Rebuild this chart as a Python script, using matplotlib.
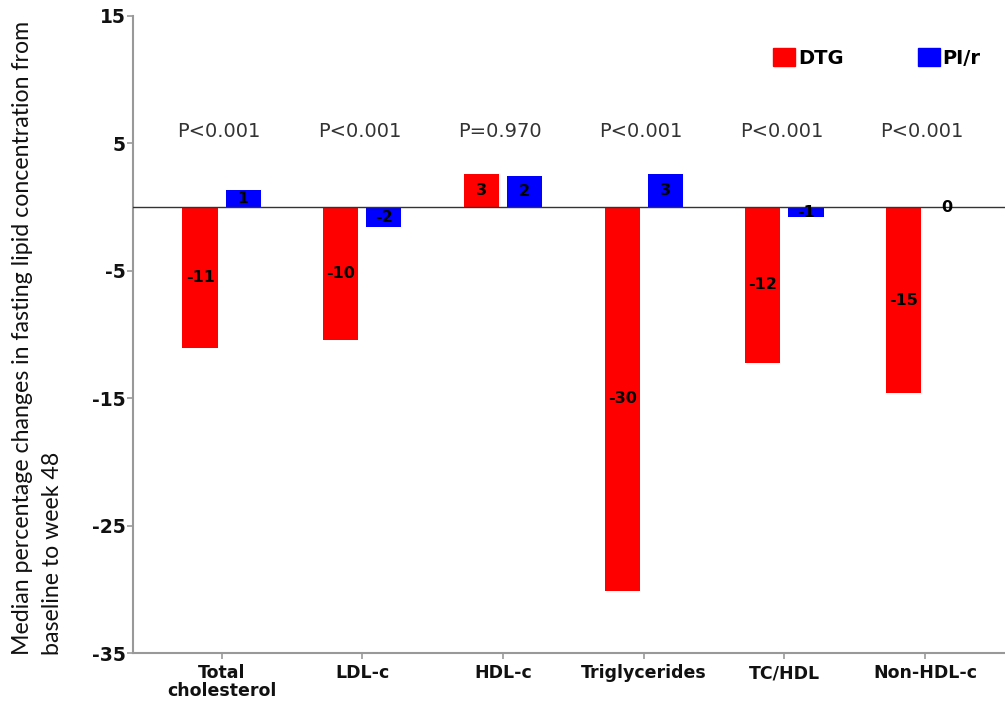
import matplotlib
matplotlib.use("Agg")
import matplotlib.pyplot as plt
import numpy as np
from matplotlib.patches import Patch

categories = ["Total\ncholesterol", "LDL-c", "HDL-c", "Triglycerides", "TC/HDL", "Non-HDL-c"]
dtg = [-11.1, -10.4, 2.6, -30.1, -12.2, -14.6]
pir = [1.3, -1.6, 2.4, 2.6, -0.8, 0.0]
pvalues = ["P<0.001", "P<0.001", "P=0.970", "P<0.001", "P<0.001", "P<0.001"]
yticks = [15, 5, -5, -15, -25, -35]

plt.rcParams['font.family'] = ['DejaVu Sans']

fig = plt.figure(figsize=(10.05, 7.04), dpi=100)
ax = fig.add_axes([0.1323, 0.0724, 0.868, 0.905])

x = np.arange(len(categories))
w = 0.25
off = 0.153
red = "#ff0000"
blue = "#0000ff"
ax.bar(x - off, dtg, w, color=red, zorder=2)
ax.bar(x + off, pir, w, color=blue, zorder=2)

ax.axhline(0, color="#333333", lw=1.0, zorder=3)

for xi, v in zip(x - off, dtg):
    ax.text(xi, v / 2, f"{v:.0f}", ha="center", va="center", fontsize=11.5,
            fontweight="bold", color="black", zorder=4)
for xi, v in zip(x + off, pir):
    ax.text(xi, v / 2, f"{v:.0f}", ha="center", va="center", fontsize=11.5,
            fontweight="bold", color="black", zorder=4)

for xi, p in zip(x, pvalues):
    ax.text(xi - 0.02, 5.9, p, ha="center", va="center", fontsize=14,
            color="#333333")

ax.set_xlim(-0.63, 5.57)
ax.set_ylim(-35, 15)
ax.set_yticks(yticks)
ax.set_yticklabels([str(t) for t in yticks], fontsize=13.5, fontweight="bold")
ax.set_xticks(x)
ax.set_xticklabels(categories, fontsize=12.5, fontweight="bold", linespacing=1.0)

for s in ["top", "right"]:
    ax.spines[s].set_visible(False)
for s in ["left", "bottom"]:
    ax.spines[s].set_color("#999999")
    ax.spines[s].set_linewidth(1.5)
ax.tick_params(axis="both", colors="#999999", length=4, width=1.2, labelcolor="#111111")
ax.tick_params(axis="y", pad=1)
ax.tick_params(axis="x", pad=4)

fig.text(12 / 1005, 49 / 704,
         "Median percentage changes in fasting lipid concentration from\nbaseline to week 48",
         rotation=90, ha="left", va="bottom", multialignment="left",
         fontsize=16.7, family=["Liberation Sans Narrow", "Lato", "DejaVu Sans"],
         linespacing=1.55, color="#111111")

handles = [Patch(color=red, label="DTG"), Patch(color=blue, label="PI/r")]
ax.legend(handles=handles, ncol=2, frameon=False, loc="center left",
          bbox_to_anchor=(0.714, 0.934), handlelength=1.13, handleheight=1.0,
          handletextpad=0.15, columnspacing=3.8,
          prop={"weight": "bold", "size": 14})

fig.savefig("out.png", dpi=100)
